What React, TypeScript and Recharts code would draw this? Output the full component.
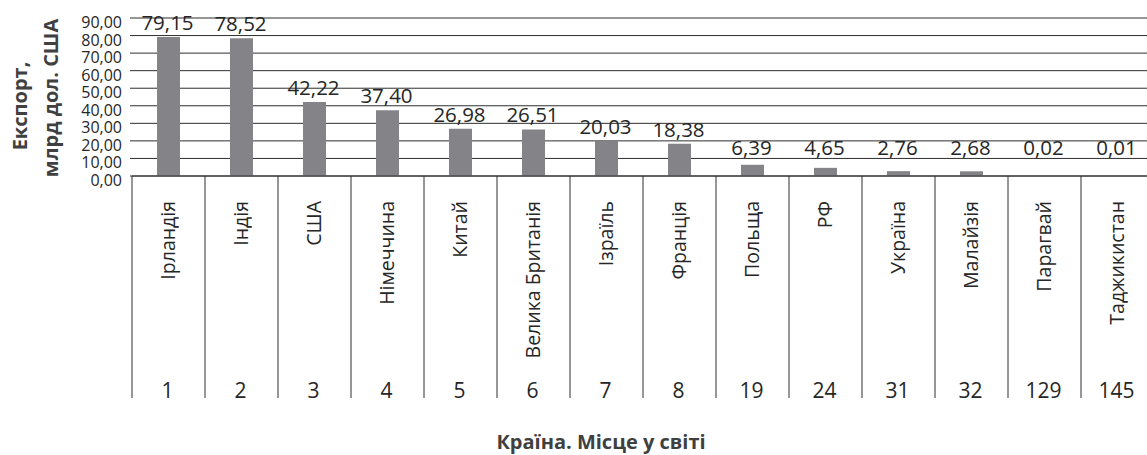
import React from 'react';
import { BarChart, Bar, XAxis, YAxis, CartesianGrid } from 'recharts';

const countries = ['Ірландія', 'Індія', 'США', 'Німеччина', 'Китай', 'Велика Британія', 'Ізраїль', 'Франція', 'Польща', 'РФ', 'Україна', 'Малайзія', 'Парагвай', 'Таджикистан'];
const ranks = [1, 2, 3, 4, 5, 6, 7, 8, 19, 24, 31, 32, 129, 145];
const exportsBn = [79.15, 78.52, 42.22, 37.4, 26.98, 26.51, 20.03, 18.38, 6.39, 4.65, 2.76, 2.68, 0.02, 0.01];
const yTicks = [0, 10, 20, 30, 40, 50, 60, 70, 80, 90];

const data = countries.map((c, i) => ({ country: c, rank: ranks[i], value: exportsBn[i] }));

const CHART_W = 1170;
const CHART_H = 455;
const M = { top: 18, right: 16, bottom: 0, left: 72 };
const Y_W = 60;
const X_H = 279;
const PLOT_W = CHART_W - M.left - M.right - Y_W;
const BAND = PLOT_W / countries.length;
const FONT = '"Open Sans", "Noto Sans", sans-serif';
const TEXT = '#262626';
const TITLE = '#404040';
const LINE = '#2e2e2e';

const fmt = (v: number) => v.toFixed(2).replace('.', ',');

const YTick = (props: any) => {
  const { x, y, payload } = props;
  return (
    <text x={x} y={y + 10} textAnchor="end" fontFamily={FONT} fontSize={16} fill={TEXT}>
      {fmt(payload.value)}
    </text>
  );
};

const XTick = (props: any) => {
  const { x, y, payload, index } = props;
  const left = x - BAND / 2;
  const right = x + BAND / 2;
  const bottom = y + 222;
  const isLast = index === countries.length - 1;
  return (
    <g>
      <line x1={left} y1={y} x2={left} y2={bottom} stroke={LINE} strokeWidth={1} />
      {isLast && <line x1={right} y1={y} x2={right} y2={bottom} stroke={LINE} strokeWidth={1} />}
      <text
        x={x + 6}
        y={y + 25}
        transform={`rotate(-90 ${x + 6} ${y + 25})`}
        textAnchor="end"
        fontFamily={FONT}
        fontSize={19.5}
        fill={TEXT}
      >
        {payload.value}
      </text>
      <text x={x - 1} y={y + 222} textAnchor="middle" fontFamily={FONT} fontSize={21} fill={TEXT}>
        {ranks[index]}
      </text>
    </g>
  );
};

const BarLabel = (props: any) => {
  const { x, y, width, value } = props;
  const base = Math.min(y - 7, 155);
  return (
    <text x={x + width / 2 - 1} y={base} textAnchor="middle" fontFamily={FONT} fontSize={20.5} fill={TEXT}>
      {fmt(value)}
    </text>
  );
};

const YTitle = (props: any) => {
  const vb = props.viewBox || {};
  const cy = vb.y + vb.height / 2;
  const x1 = 27;
  const x2 = 58;
  return (
    <g>
      <text x={x1} y={cy + 9} transform={`rotate(-90 ${x1} ${cy + 9})`} textAnchor="middle" fontFamily={FONT} fontSize={20} fontWeight={700} fill={TITLE}>
        Експорт,
      </text>
      <text x={x2} y={cy + 1} transform={`rotate(-90 ${x2} ${cy + 1})`} textAnchor="middle" fontFamily={FONT} fontSize={20} fontWeight={700} fill={TITLE}>
        млрд дол. США
      </text>
    </g>
  );
};

const XTitle = (props: any) => {
  const vb = props.viewBox || {};
  return (
    <text x={vb.x + 469} y={449} textAnchor="middle" fontFamily={FONT} fontSize={20} fontWeight={700} fill={TITLE}>
      Країна. Місце у світі
    </text>
  );
};

export default function App() {
  return (
    <div style={{ position: 'absolute', left: 0, top: 0, width: 1147, height: 455, overflow: 'hidden', background: '#fff' }}>
      <BarChart width={CHART_W} height={CHART_H} data={data} margin={M}>
        <CartesianGrid horizontal vertical={false} stroke={LINE} strokeWidth={1} />
        <YAxis
          type="number"
          domain={[0, 90]}
          ticks={yTicks}
          width={Y_W}
          axisLine={false}
          tickLine={{ stroke: LINE }}
          tickSize={2}
          tickMargin={8}
          tick={<YTick />}
          label={<YTitle />}
          interval={0}
        />
        <XAxis
          dataKey="country"
          interval={0}
          height={X_H}
          tickLine={false}
          tickSize={0}
          tickMargin={0}
          axisLine={{ stroke: LINE }}
          tick={<XTick />}
          label={<XTitle />}
        />
        <Bar dataKey="value" fill="#848488" barSize={23} isAnimationActive={false} label={<BarLabel />} />
      </BarChart>
    </div>
  );
}
